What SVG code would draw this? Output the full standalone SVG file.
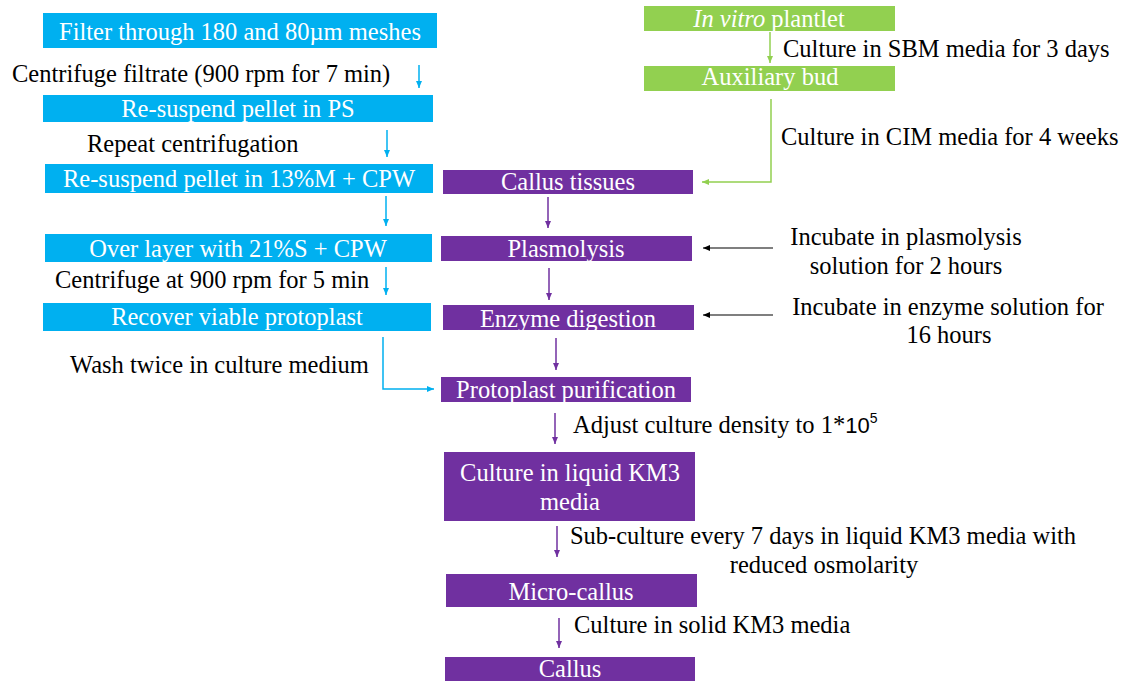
<svg xmlns="http://www.w3.org/2000/svg" width="1135" height="681" viewBox="0 0 1135 681">
<style>
text{font-family:"Liberation Serif","Times New Roman",serif;font-size:24.5px}
.w{fill:#fff;text-anchor:middle}
.k{fill:#000}
.m{text-anchor:middle}
.blue{fill:#00B0F0}
.green{fill:#92D050}
.purple{fill:#7030A0}
.lb{stroke:#00B0F0;stroke-width:1.5;fill:none}
.lg{stroke:#92D050;stroke-width:1.5;fill:none}
.lp{stroke:#7030A0;stroke-width:1.5;fill:none}
.lk{stroke:#000;stroke-width:1.2;fill:none}
</style>
<defs>
<marker id="ab" markerWidth="8" markerHeight="8" refX="7" refY="4" orient="auto" markerUnits="userSpaceOnUse"><path d="M0,1 L7,4 L0,7 Z" fill="#00B0F0"/></marker>
<marker id="ag" markerWidth="8" markerHeight="8" refX="7" refY="4" orient="auto" markerUnits="userSpaceOnUse"><path d="M0,1 L7,4 L0,7 Z" fill="#92D050"/></marker>
<marker id="ap" markerWidth="8" markerHeight="8" refX="7" refY="4" orient="auto" markerUnits="userSpaceOnUse"><path d="M0,1 L7,4 L0,7 Z" fill="#7030A0"/></marker>
<marker id="ak" markerWidth="8" markerHeight="8" refX="7" refY="4" orient="auto" markerUnits="userSpaceOnUse"><path d="M0,1 L7,4 L0,7 Z" fill="#000"/></marker>
</defs>

<g id="connectors">
<line class="lb" x1="419" y1="65" x2="419" y2="88" marker-end="url(#ab)"/>
<line class="lb" x1="387" y1="130" x2="387" y2="157" marker-end="url(#ab)"/>
<line class="lb" x1="386" y1="196" x2="386" y2="226" marker-end="url(#ab)"/>
<line class="lb" x1="386" y1="267" x2="386" y2="295" marker-end="url(#ab)"/>
<polyline class="lb" points="383,337 383,389 434,389" marker-end="url(#ab)"/>
<line class="lg" x1="770" y1="32" x2="770" y2="63" marker-end="url(#ag)"/>
<polyline class="lg" points="771,99 771,182 702,182" marker-end="url(#ag)"/>
<line class="lp" x1="548" y1="197" x2="548" y2="228" marker-end="url(#ap)"/>
<line class="lp" x1="549" y1="268" x2="549" y2="300" marker-end="url(#ap)"/>
<line class="lp" x1="556" y1="338" x2="556" y2="370" marker-end="url(#ap)"/>
<line class="lp" x1="555" y1="413" x2="555" y2="444" marker-end="url(#ap)"/>
<line class="lp" x1="557" y1="526" x2="557" y2="557" marker-end="url(#ap)"/>
<line class="lp" x1="559" y1="618" x2="559" y2="648" marker-end="url(#ap)"/>
<line class="lk" x1="773" y1="248" x2="703" y2="248" marker-end="url(#ak)"/>
<line class="lk" x1="773" y1="315" x2="703" y2="315" marker-end="url(#ak)"/>
</g>

<g id="labels">
<text class="k" x="12" y="82">Centrifuge filtrate (900 rpm for 7 min)</text>
<text class="k" x="87" y="152">Repeat centrifugation</text>
<text class="k" x="55" y="288">Centrifuge at 900 rpm for 5 min</text>
<text class="k" x="70" y="373">Wash twice in culture medium</text>
<text class="k" x="783" y="57">Culture in SBM media for 3 days</text>
<text class="k" x="781" y="145">Culture in CIM media for 4 weeks</text>
<text class="k m" x="906" y="245">Incubate in plasmolysis</text>
<text class="k m" x="906" y="274">solution for 2 hours</text>
<text class="k m" x="948" y="315">Incubate in enzyme solution for</text>
<text class="k m" x="949" y="343">16 hours</text>
<text class="k" x="573" y="433">Adjust culture density to 1*<tspan style="font-family:'Liberation Sans',Arial,sans-serif;font-size:22px">10</tspan><tspan style="font-family:'Liberation Sans',Arial,sans-serif;font-size:14px" dy="-10">5</tspan></text>
<text class="k m" x="823" y="544">Sub-culture every 7 days in liquid KM3 media with</text>
<text class="k m" x="824" y="573">reduced osmolarity</text>
<text class="k" x="574" y="633">Culture in solid KM3 media</text>
</g>

<g id="n-filter"><rect class="blue" x="43" y="13" width="394" height="35"/><text class="w" x="240" y="40">Filter through 180 and 80µm meshes</text></g>
<g id="n-resuspend-ps"><rect class="blue" x="43" y="95" width="390" height="27"/><text class="w" x="238" y="117">Re-suspend pellet in PS</text></g>
<g id="n-resuspend-m"><rect class="blue" x="45" y="164" width="388" height="29"/><text class="w" x="239" y="187">Re-suspend pellet in 13%M + CPW</text></g>
<g id="n-overlayer"><rect class="blue" x="45" y="234" width="387" height="28"/><text class="w" x="238" y="257">Over layer with 21%S + CPW</text></g>
<g id="n-recover"><rect class="blue" x="43" y="303" width="388" height="28"/><text class="w" x="237" y="325">Recover viable protoplast</text></g>

<g id="n-plantlet"><rect class="green" x="644" y="6" width="251" height="25"/><text class="w" x="769" y="27"><tspan font-style="italic">In vitro</tspan> plantlet</text></g>
<g id="n-bud"><rect class="green" x="644" y="66" width="251" height="25"/><text class="w" x="770" y="85">Auxiliary bud</text></g>

<g id="n-callus-tissues"><rect class="purple" x="443" y="170" width="250" height="24"/><text class="w" x="568" y="190">Callus tissues</text></g>
<g id="n-plasmolysis"><rect class="purple" x="441" y="236" width="251" height="25"/><text class="w" x="566" y="257">Plasmolysis</text></g>
<g id="n-enzyme"><rect class="purple" x="443" y="305" width="251" height="25"/><text class="w" x="568" y="327">Enzyme digestion</text></g>
<g id="n-purification"><rect class="purple" x="441" y="377" width="250" height="25"/><text class="w" x="566" y="398">Protoplast purification</text></g>
<g id="n-liquid"><rect class="purple" x="444" y="452" width="251" height="69"/><text class="w" x="570" y="481">Culture in liquid KM3</text><text class="w" x="570" y="510">media</text></g>
<g id="n-microcallus"><rect class="purple" x="446" y="574" width="251" height="33"/><text class="w" x="571" y="600">Micro-callus</text></g>
<g id="n-callus"><rect class="purple" x="445" y="657" width="250" height="30"/><text class="w" x="570" y="677">Callus</text></g>
</svg>
